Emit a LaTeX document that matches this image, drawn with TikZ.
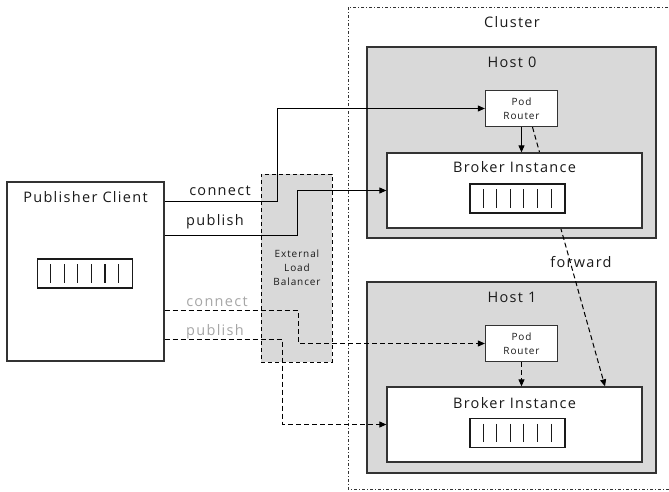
\documentclass[tikz,border=0pt]{standalone}
\usepackage{fontspec}
\setmainfont{Open Sans}[LetterSpace=9]
\usetikzlibrary{arrows.meta,calc}
\pgfdeclarelayer{bg}
\pgfdeclarelayer{mid}
\pgfsetlayers{bg,mid,main}

\definecolor{panel}{HTML}{D9D9D9}
\definecolor{edge}{HTML}{333333}
\definecolor{faint}{HTML}{A6A6A6}
\definecolor{ink}{HTML}{1A1A1A}

% a message queue: framed strip with six slot bars
\newcommand\drawqueue[2]{%
  \node[queue] (#1) at (#2) {};
  \foreach \k in {1,...,6}{
    \draw[queuebar] ($(#1.north west)+(\k*13.6,6)$) -- ($(#1.south west)+(\k*13.6,-6)$);
  }
}

\begin{document}
\begin{tikzpicture}[x=1pt,y=-1pt,
  bigtext/.style={font=\fontsize{14.5}{16}\selectfont, text=ink, inner sep=0pt},
  smalltext/.style={font=\fontsize{10}{14}\selectfont, text=ink, inner sep=0pt, align=center},
  host/.style={draw=edge, line width=1.5pt, fill=panel, inner sep=0pt},
  box/.style={draw=edge, line width=1.3pt, fill=white, inner sep=0pt},
  queue/.style={draw=ink, line width=1.1pt, fill=white, minimum width=95pt, minimum height=29pt, inner sep=0pt},
  queuebar/.style={draw=ink, line width=1.1pt},
  balancer/.style={draw=black, line width=1pt, dash pattern=on 4pt off 3pt, fill=panel, inner sep=0pt},
  frame/.style={draw=edge, line width=1pt, dash pattern=on 3pt off 2pt on 1pt off 2pt},
  wire/.style={draw=black, line width=1pt, -{Triangle[length=7pt,width=6pt]}},
  dwire/.style={wire, dash pattern=on 5pt off 3pt},
]
\useasboundingbox (0,0) rectangle (669,491);
\clip (0,0) rectangle (669,491);

% cluster frame, hosts and balancer sit behind everything else
\begin{pgfonlayer}{bg}
  \draw[frame] (348,7) rectangle (690,489);
  \node[host, minimum width=289pt, minimum height=191pt] (host0) at (511.5,142.5) {};
  \node[host, minimum width=289pt, minimum height=191pt] (host1) at (511.5,377.5) {};
  \node[balancer, minimum width=71pt, minimum height=188pt] (elb) at (296.5,268) {};
\end{pgfonlayer}

\node[bigtext] (clusterT) at (512,22) {Cluster};
\node[bigtext] (host0T) at (512,62) {Host 0};
\node[bigtext] (host1T) at (512,297) {Host 1};
\node[smalltext] (elbT) at (297,268) {External\\Load\\Balancer};

% publisher
\node[box, minimum width=157pt, minimum height=179pt] (pub) at (85.5,271.5) {};
\node[bigtext] (pubT) at (85.5,197) {Publisher Client};
\drawqueue{pubQ}{85,273.5}

% host 0 contents
\node[box, minimum width=72pt, minimum height=36pt] (pr0) at (521.5,108.5) {};
\node[smalltext] (pr0T) at (521.5,108.5) {Pod\\Router};
\node[box, minimum width=255pt, minimum height=75pt] (br0) at (514.5,190.5) {};
\node[bigtext] (br0T) at (514.5,167) {Broker Instance};
\drawqueue{br0Q}{517.5,198.5}

% host 1 contents
\node[box, minimum width=72pt, minimum height=36pt] (pr1) at (521.5,343.5) {};
\node[smalltext] (pr1T) at (521.5,343.5) {Pod\\Router};
\node[box, minimum width=255pt, minimum height=75pt] (br1) at (514.5,424.5) {};
\node[bigtext] (br1T) at (514.5,403) {Broker Instance};
\drawqueue{br1Q}{517.5,433}

% forwarding path runs underneath the broker boxes
\begin{pgfonlayer}{mid}
  \draw[dwire] ($(pr0.south)+(11,0)$) -- ($(br1.north)+(90.5,0)$);
\end{pgfonlayer}
\node[bigtext] (fwdT) at (581,262) {forward};

% active connection (solid)
\draw[wire] ($(pub.north east)+(0,20.5)$) -| ($(pr0.west)+(-207.5,0)$) -- (pr0.west);
\draw[wire] ($(pub.north east)+(0,54.5)$) -| ($(br0.west)+(-88.5,0)$) -- (br0.west);
\node[bigtext] (connT) at (220,191) {connect};
\node[bigtext] (pubL) at (215,222) {publish};
\draw[wire] (pr0.south) -- (pr0.south |- br0.north);

% alternative connection (dashed)
\draw[dwire] ($(pub.north east)+(0,129.5)$) -| ($(pr1.west)+(-186.5,0)$) -- (pr1.west);
\draw[dwire] ($(pub.north east)+(0,158.5)$) -| ($(br1.west)+(-103.5,0)$) -- (br1.west);
\node[bigtext, text=faint] (connT2) at (217,302) {connect};
\node[bigtext, text=faint] (pubL2) at (215,332) {publish};
\draw[dwire] (pr1.south) -- (pr1.south |- br1.north);
\end{tikzpicture}
\end{document}
